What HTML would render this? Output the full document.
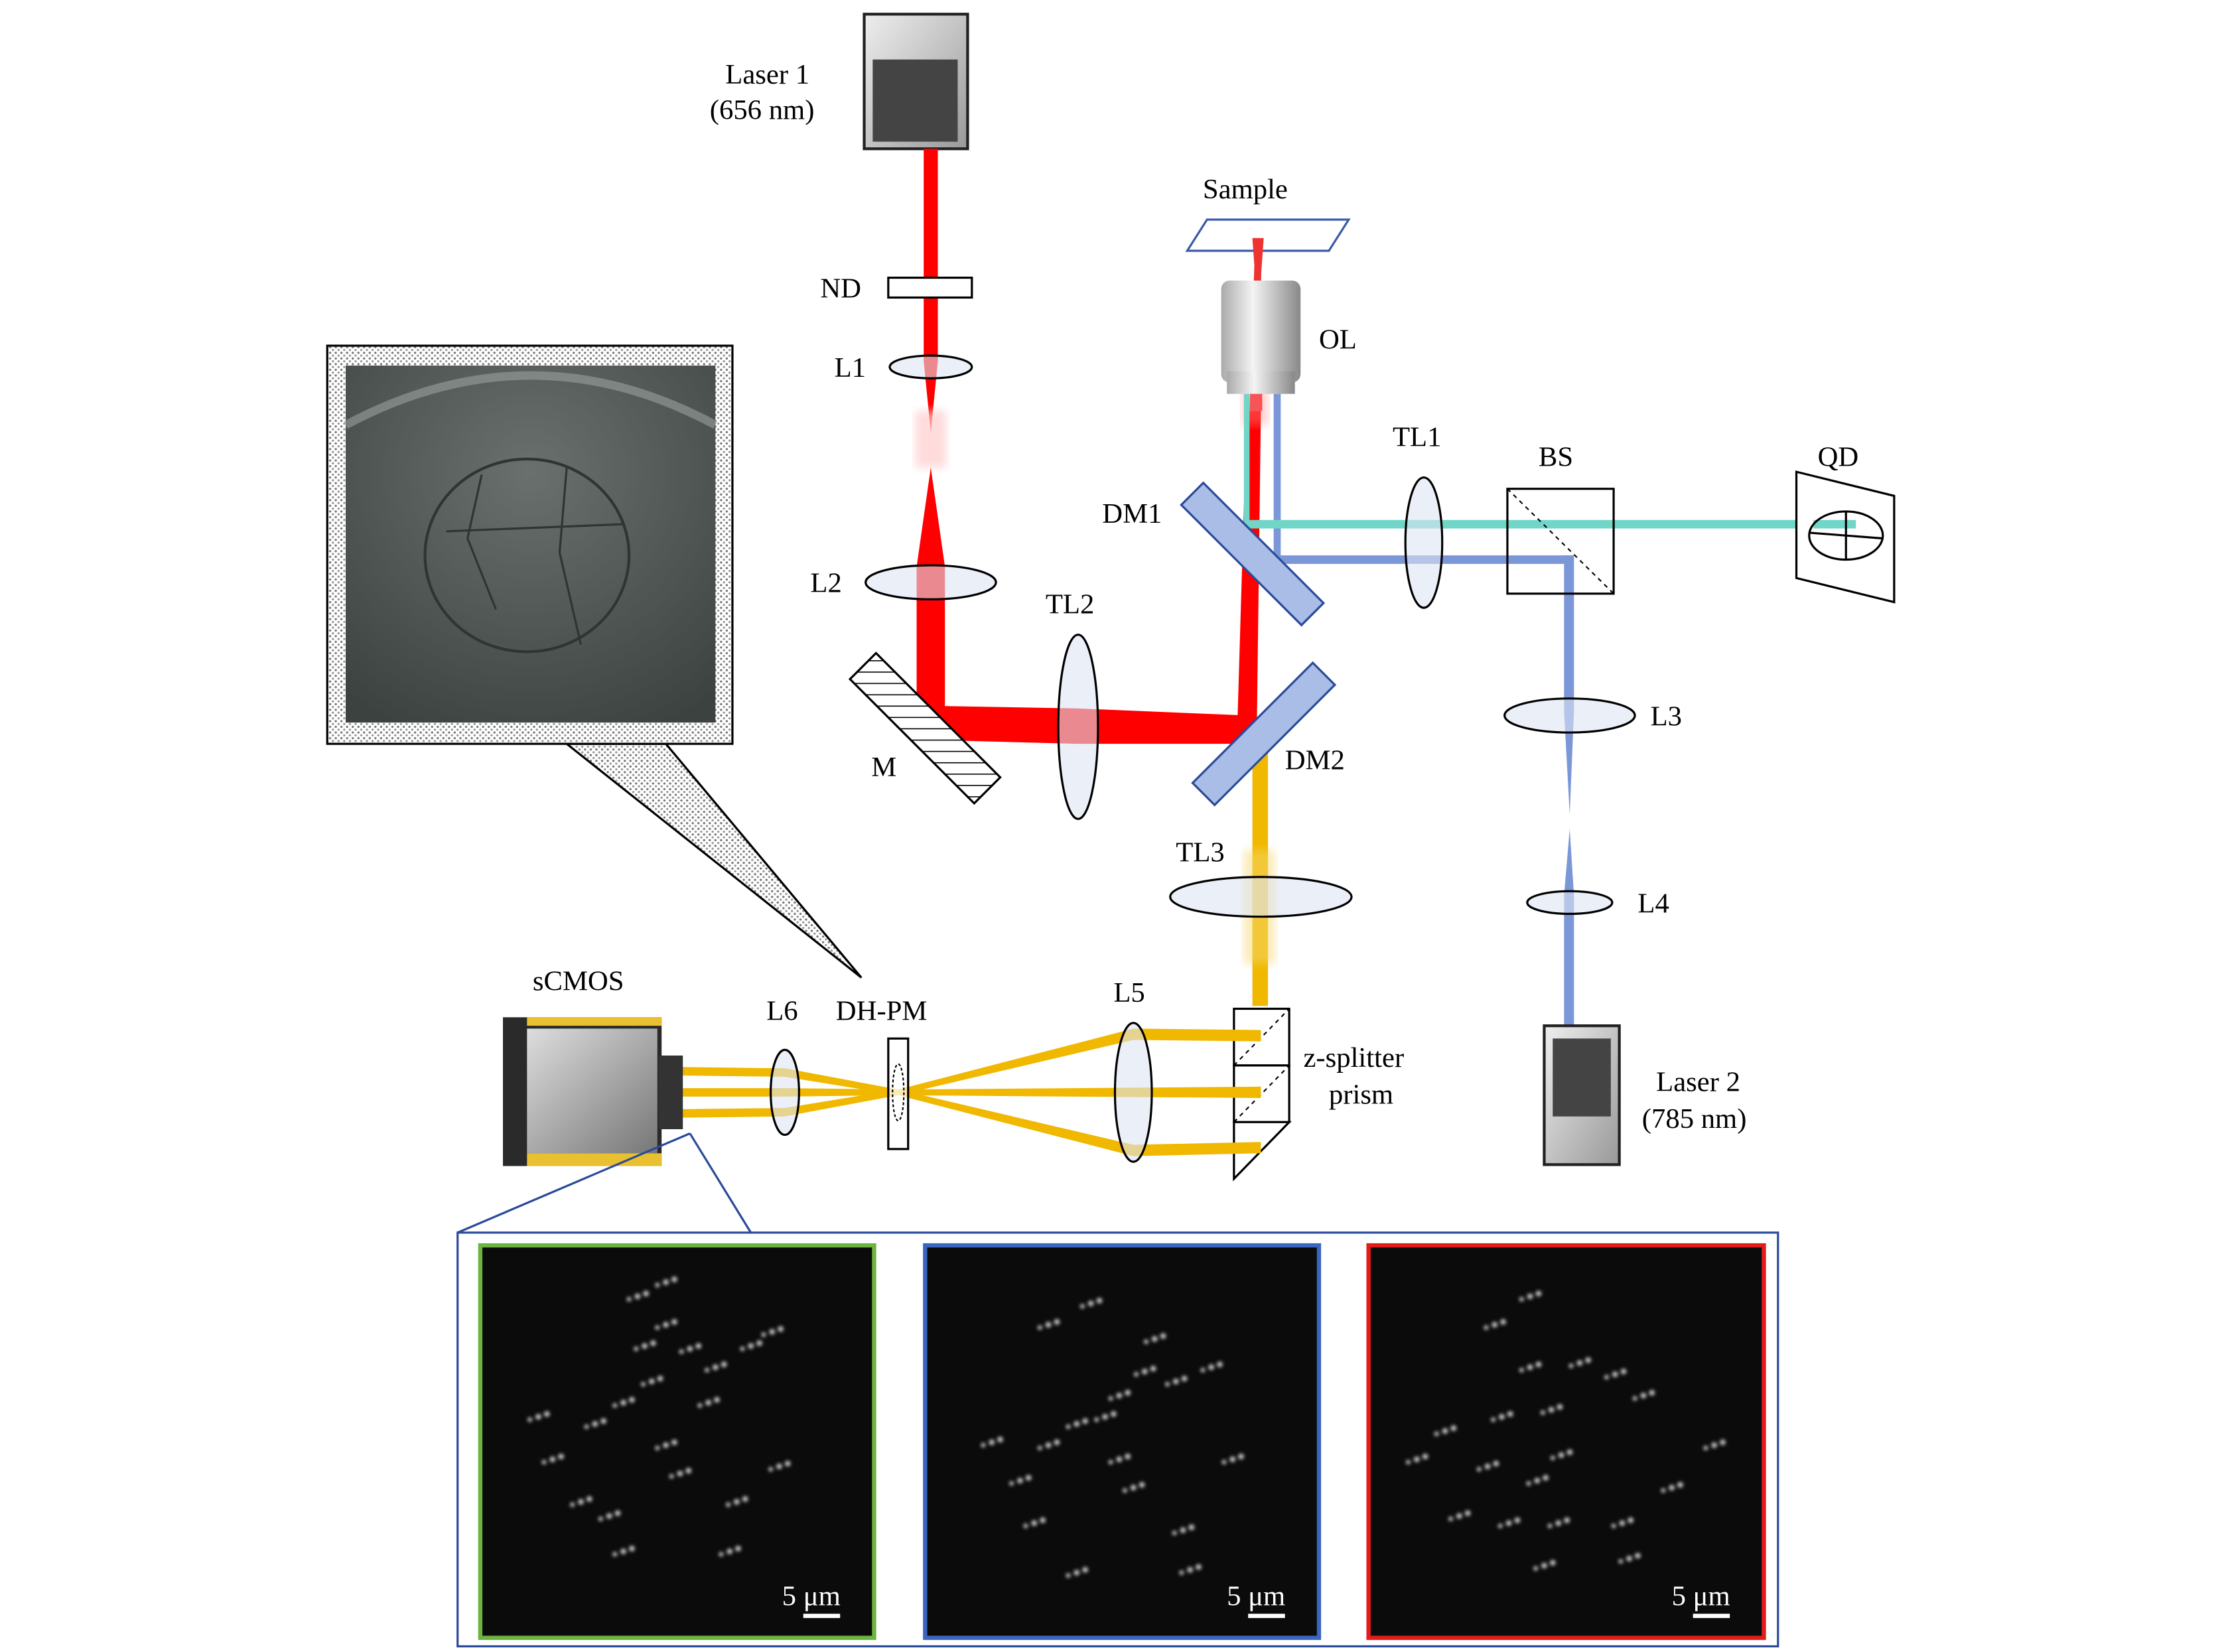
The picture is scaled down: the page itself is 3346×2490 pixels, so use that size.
<!DOCTYPE html>
<html><head><meta charset="utf-8"><style>
html,body{margin:0;padding:0;background:#fff;}
svg{display:block;}
text{font-family:"Liberation Serif",serif;font-size:20px;fill:#000;}
</style></head><body>
<svg width="3346" height="2490" viewBox="0 0 1567 1166" preserveAspectRatio="none" xmlns="http://www.w3.org/2000/svg">
<defs>
<linearGradient id="lg" x1="0" y1="0" x2="1" y2="1"><stop offset="0" stop-color="#eee"/><stop offset="1" stop-color="#999"/></linearGradient>
<linearGradient id="ol" x1="0" y1="0" x2="1" y2="0"><stop offset="0" stop-color="#aaa"/><stop offset="0.4" stop-color="#f4f4f4"/><stop offset="1" stop-color="#888"/></linearGradient>
<linearGradient id="cam" x1="0" y1="0" x2="1" y2="1"><stop offset="0" stop-color="#ddd"/><stop offset="1" stop-color="#777"/></linearGradient>
<pattern id="dots" width="4" height="4" patternUnits="userSpaceOnUse"><rect width="4" height="4" fill="#fff"/><circle cx="1" cy="1" r="0.8" fill="#777"/><circle cx="3" cy="3" r="0.8" fill="#999"/></pattern>
<pattern id="hatch" width="8" height="8" patternUnits="userSpaceOnUse" patternTransform="rotate(45)"><rect width="8" height="8" fill="#fff"/><line x1="0" y1="0" x2="0" y2="8" stroke="#000" stroke-width="1.5"/></pattern>
<filter id="bl"><feGaussianBlur stdDeviation="1.2"/></filter>
<filter id="bl3"><feGaussianBlur stdDeviation="3"/></filter>
<radialGradient id="bio" cx="0.5" cy="0.3" r="0.8"><stop offset="0" stop-color="#6a706e"/><stop offset="1" stop-color="#3c4240"/></radialGradient>
<g id="p"><circle cx="0" cy="0" r="2"/><circle cx="6" cy="-2" r="2"/><circle cx="-6" cy="2" r="1.6"/></g>
</defs>

<!-- Laser 1 -->
<rect x="610" y="10" width="73" height="95" fill="url(#lg)" stroke="#222" stroke-width="2"/>
<rect x="616" y="42" width="60" height="58" fill="#444"/>
<text x="512" y="59">Laser 1</text>
<text x="501" y="84">(656 nm)</text>

<!-- red beam -->
<rect x="652" y="105" width="10" height="150" fill="#f00"/>
<polygon points="652,255 662,255 657,305" fill="#f00"/>
<rect x="646" y="290" width="22" height="40" fill="#fcc" filter="url(#bl3)" opacity="0.7"/>
<polygon points="657,330 667,400 667,500 647,500 647,400" fill="#f00"/>
<polygon points="647,498 760,500 880,505 880,525 760,525 647,522" fill="#f00"/>
<polygon points="873,525 887,525 890,290 880,290" fill="#f00"/>
<polygon points="882,290 891,290 890,175 886,168" fill="#e33"/>
<rect x="877" y="270" width="18" height="30" fill="#f88" opacity="0.4" filter="url(#bl3)"/>

<rect x="627" y="196" width="59" height="14" fill="#fff" stroke="#000" stroke-width="1.5"/>
<text x="579" y="210">ND</text>
<ellipse cx="657" cy="259" rx="29" ry="8" fill="#dde4f2" fill-opacity="0.6" stroke="#000" stroke-width="1.5"/>
<text x="589" y="266">L1</text>
<ellipse cx="657" cy="411" rx="46" ry="12" fill="#dde4f2" fill-opacity="0.6" stroke="#000" stroke-width="1.5"/>
<text x="572" y="418">L2</text>

<g transform="translate(653,514) rotate(45)"><rect x="-62" y="-13" width="124" height="26" fill="url(#hatch)" stroke="#000" stroke-width="1.5"/></g>
<text x="615" y="548">M</text>

<ellipse cx="761" cy="513" rx="14" ry="65" fill="#dde4f2" fill-opacity="0.6" stroke="#000" stroke-width="1.5"/>
<text x="738" y="433">TL2</text>

<rect x="884" y="520" width="11" height="190" fill="#f0b800"/>
<rect x="878" y="600" width="22" height="80" fill="#f6d870" opacity="0.5" filter="url(#bl3)"/>

<g transform="translate(892,518) rotate(-45)"><rect x="-60" y="-11" width="120" height="22" fill="#aabde6" stroke="#2a4a9a" stroke-width="1.5"/></g>
<text x="907" y="543">DM2</text>

<ellipse cx="890" cy="633" rx="64" ry="14" fill="#dde4f2" fill-opacity="0.6" stroke="#000" stroke-width="1.5"/>
<text x="830" y="608">TL3</text>

<rect x="878" y="278" width="4" height="95" fill="#6fd6c8"/>
<rect x="899" y="278" width="5" height="120" fill="#7b97d8"/>

<polygon points="852,155 952,155 938,177 838,177" fill="#fff" stroke="#3a5aa8" stroke-width="1.5"/>
<polygon points="884,168 892,168 890,196 886,196" fill="#e33"/>
<text x="849" y="140">Sample</text>
<rect x="862" y="198" width="56" height="72" rx="6" fill="url(#ol)"/>
<rect x="866" y="262" width="48" height="16" fill="url(#ol)"/>
<text x="931" y="246">OL</text>

<rect x="880" y="367" width="415" height="6" fill="#6fd6c8"/>
<rect x="900" y="392" width="210" height="6" fill="#7b97d8"/>
<rect x="1104" y="392" width="7" height="110" fill="#7b97d8"/>
<polygon points="1104,502 1111,502 1108,575" fill="#7b97d8"/>
<polygon points="1108,585 1111,632 1104,632" fill="#7b97d8"/>
<rect x="1104" y="632" width="7" height="95" fill="#7b97d8"/>

<g transform="translate(884,391) rotate(45)"><rect x="-60" y="-11" width="120" height="22" fill="#aabde6" stroke="#2a4a9a" stroke-width="1.5"/></g>
<text x="778" y="369">DM1</text>

<ellipse cx="1005" cy="383" rx="13" ry="46" fill="#dde4f2" fill-opacity="0.6" stroke="#000" stroke-width="1.5"/>
<text x="983" y="315">TL1</text>
<rect x="1064" y="345" width="75" height="74" fill="none" stroke="#000" stroke-width="1.5"/>
<line x1="1064" y1="345" x2="1139" y2="419" stroke="#000" stroke-dasharray="3,3"/>
<text x="1086" y="329">BS</text>
<polygon points="1268,333 1337,350 1337,425 1268,408" fill="#fff" stroke="#000" stroke-width="1.5"/>
<rect x="1280" y="367" width="30" height="6" fill="#6fd6c8"/>
<ellipse cx="1303" cy="378" rx="26" ry="17" fill="none" stroke="#000" stroke-width="1.5"/>
<line x1="1277" y1="376" x2="1329" y2="380" stroke="#000" stroke-width="1.5"/>
<line x1="1303" y1="361" x2="1303" y2="395" stroke="#000" stroke-width="1.5"/>
<text x="1283" y="329">QD</text>

<ellipse cx="1108" cy="505" rx="46" ry="12" fill="#dde4f2" fill-opacity="0.6" stroke="#000" stroke-width="1.5"/>
<text x="1165" y="512">L3</text>
<ellipse cx="1108" cy="637" rx="30" ry="8" fill="#dde4f2" fill-opacity="0.6" stroke="#000" stroke-width="1.5"/>
<text x="1156" y="644">L4</text>
<rect x="1090" y="724" width="53" height="98" fill="url(#lg)" stroke="#222" stroke-width="2"/>
<rect x="1096" y="733" width="41" height="55" fill="#444"/>
<text x="1169" y="770">Laser 2</text>
<text x="1159" y="796">(785 nm)</text>

<rect x="871" y="712" width="39" height="40" fill="#fff" stroke="#000" stroke-width="1.5"/>
<rect x="871" y="752" width="39" height="40" fill="#fff" stroke="#000" stroke-width="1.5"/>
<polygon points="871,792 910,792 871,832" fill="#fff" stroke="#000" stroke-width="1.5"/>
<line x1="871" y1="752" x2="910" y2="712" stroke="#000" stroke-dasharray="3,3"/>
<line x1="871" y1="792" x2="910" y2="752" stroke="#000" stroke-dasharray="3,3"/>
<text x="920" y="753">z-splitter</text>
<text x="938" y="779">prism</text>

<g fill="#f0b800">
<polygon points="890,727 890,735 800,734 634,773 634,769 800,726"/>
<polygon points="890,767 890,775 634,773 634,769"/>
<polygon points="890,806 890,814 800,816 634,773 634,769 800,808"/>
<polygon points="634,769 634,773 554,788 470,789 470,783 554,782"/>
<polygon points="634,769 634,773 554,774 470,774 470,768 554,768"/>
<polygon points="634,769 634,773 554,760 470,759 470,753 554,754"/>
</g>
<ellipse cx="800" cy="771" rx="13" ry="49" fill="#dde4f2" fill-opacity="0.6" stroke="#000" stroke-width="1.5"/>
<text x="786" y="707">L5</text>
<rect x="627" y="733" width="14" height="78" fill="#fff" fill-opacity="0.7" stroke="#000" stroke-width="1.5"/>
<ellipse cx="634" cy="771" rx="4" ry="20" fill="none" stroke="#000" stroke-dasharray="2,1.5"/>
<text x="590" y="720">DH-PM</text>
<ellipse cx="554" cy="771" rx="10" ry="30" fill="#dde4f2" fill-opacity="0.6" stroke="#000" stroke-width="1.5"/>
<text x="541" y="720">L6</text>

<rect x="355" y="718" width="112" height="105" fill="#2a2a2a"/>
<rect x="372" y="726" width="92" height="88" fill="url(#cam)"/>
<rect x="372" y="814" width="95" height="9" fill="#e8c030"/>
<rect x="372" y="718" width="95" height="6" fill="#e8c030"/>
<rect x="465" y="745" width="17" height="52" fill="#333"/>
<text x="376" y="699">sCMOS</text>

<polygon points="400,525 470,525 608,690" fill="url(#dots)" stroke="#000" stroke-width="1.5"/>
<rect x="231" y="244" width="286" height="281" fill="url(#dots)" stroke="#000" stroke-width="1.5"/>
<rect x="244" y="258" width="261" height="252" fill="url(#bio)"/>
<path d="M244,300 Q375,230 505,300" stroke="#9aa09e" stroke-width="6" fill="none" opacity="0.6"/>
<ellipse cx="372" cy="392" rx="72" ry="68" fill="none" stroke="#2f3534" stroke-width="2"/>
<path d="M340,335 L330,380 L350,430 M400,330 L395,390 L410,455 M315,375 L440,370" stroke="#2f3534" stroke-width="1.5" fill="none"/>

<line x1="487" y1="800" x2="323" y2="870" stroke="#2a4a9a" stroke-width="1.5"/>
<line x1="487" y1="800" x2="530" y2="870" stroke="#2a4a9a" stroke-width="1.5"/>
<rect x="323" y="870" width="932" height="292" fill="#fff" stroke="#2a4a9a" stroke-width="1.5"/>

<rect x="339" y="879" width="278" height="277" fill="#0b0b0b" stroke="#6cb33f" stroke-width="3"/>
<rect x="653" y="879" width="278" height="277" fill="#0b0b0b" stroke="#3a66c0" stroke-width="3"/>
<rect x="966" y="879" width="279" height="277" fill="#0b0b0b" stroke="#e21b1b" stroke-width="3"/>
<g fill="#cfcfcf" filter="url(#bl)">
<use href="#p" x="487" y="952"/><use href="#p" x="470" y="1020"/><use href="#p" x="460" y="975"/><use href="#p" x="440" y="990"/><use href="#p" x="420" y="1005"/><use href="#p" x="380" y="1000"/><use href="#p" x="505" y="965"/><use href="#p" x="530" y="950"/><use href="#p" x="545" y="940"/><use href="#p" x="410" y="1060"/><use href="#p" x="440" y="1095"/><use href="#p" x="515" y="1095"/><use href="#p" x="520" y="1060"/><use href="#p" x="470" y="905"/><use href="#p" x="450" y="915"/><use href="#p" x="390" y="1030"/><use href="#p" x="480" y="1040"/><use href="#p" x="500" y="990"/><use href="#p" x="430" y="1070"/><use href="#p" x="550" y="1035"/><use href="#p" x="455" y="950"/><use href="#p" x="470" y="935"/>
<use href="#p" x="808" y="968"/><use href="#p" x="790" y="1030"/><use href="#p" x="780" y="1000"/><use href="#p" x="760" y="1005"/><use href="#p" x="740" y="1020"/><use href="#p" x="700" y="1018"/><use href="#p" x="830" y="975"/><use href="#p" x="855" y="965"/><use href="#p" x="770" y="920"/><use href="#p" x="740" y="935"/><use href="#p" x="760" y="1110"/><use href="#p" x="835" y="1080"/><use href="#p" x="840" y="1108"/><use href="#p" x="730" y="1075"/><use href="#p" x="800" y="1050"/><use href="#p" x="720" y="1045"/><use href="#p" x="870" y="1030"/><use href="#p" x="790" y="985"/><use href="#p" x="815" y="945"/>
<use href="#p" x="1115" y="962"/><use href="#p" x="1095" y="995"/><use href="#p" x="1102" y="1027"/><use href="#p" x="1080" y="965"/><use href="#p" x="1140" y="970"/><use href="#p" x="1060" y="1000"/><use href="#p" x="1020" y="1010"/><use href="#p" x="1050" y="1035"/><use href="#p" x="1085" y="1045"/><use href="#p" x="1030" y="1070"/><use href="#p" x="1065" y="1075"/><use href="#p" x="1100" y="1075"/><use href="#p" x="1145" y="1075"/><use href="#p" x="1150" y="1100"/><use href="#p" x="1090" y="1105"/><use href="#p" x="1180" y="1050"/><use href="#p" x="1160" y="985"/><use href="#p" x="1080" y="915"/><use href="#p" x="1210" y="1020"/><use href="#p" x="1000" y="1030"/><use href="#p" x="1055" y="935"/>
</g>
<g font-size="19">
<text x="552" y="1133" style="fill:#fff">5 μm</text>
<text x="866" y="1133" style="fill:#fff">5 μm</text>
<text x="1180" y="1133" style="fill:#fff">5 μm</text>
</g>
<rect x="567" y="1139" width="26" height="3" fill="#fff"/>
<rect x="881" y="1139" width="26" height="3" fill="#fff"/>
<rect x="1195" y="1139" width="26" height="3" fill="#fff"/>
</svg>
</body></html>
